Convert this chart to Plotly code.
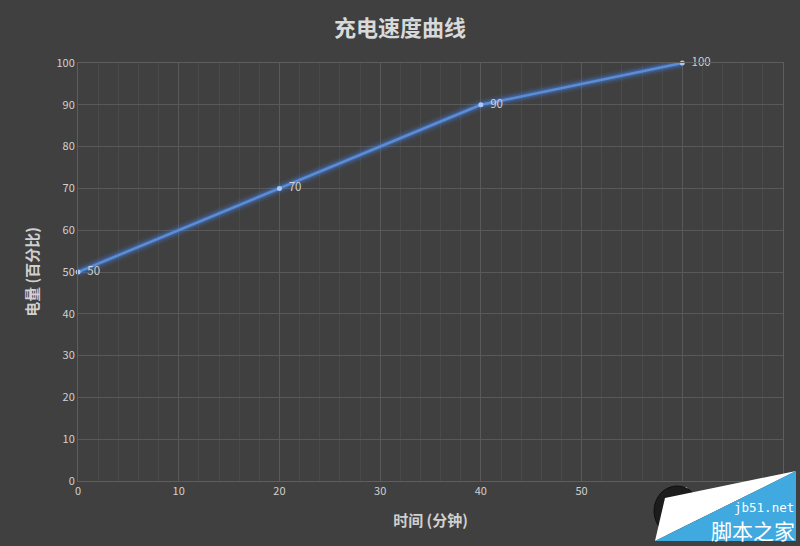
import plotly.graph_objects as go

minutes = [0, 20, 40, 60]
battery = [50, 70, 90, 100]
x_ticks = [0, 10, 20, 30, 40, 50, 60]
y_ticks = [0, 10, 20, 30, 40, 50, 60, 70, 80, 90, 100]

bg = '#404040'
grid = '#595959'
text_col = '#d0d0d0'
line_col = '#5b8dd6'

# plot area in pixels, used to place the watermark
L, R, T, B = 78, 783, 63, 481


def px(x, y):
    return (x - L) / (R - L), (B - y) / (B - T)


fig = go.Figure()

# soft glow under the line
for w, a in [(12, 0.10), (8, 0.18), (5, 0.3)]:
    fig.add_trace(go.Scatter(
        x=minutes, y=battery, mode='lines',
        line=dict(color=f'rgba(70,130,230,{a})', width=w),
        hoverinfo='skip', showlegend=False, cliponaxis=False,
    ))

fig.add_trace(go.Scatter(
    x=minutes, y=battery, mode='lines+markers+text',
    line=dict(color=line_col, width=2.5),
    marker=dict(color='#a9c8f5', size=5),
    text=['\u00a0\u00a0' + str(v) for v in battery],
    textposition='middle right',
    textfont=dict(color=text_col, size=11.5, family='Noto Sans CJK SC'),
    showlegend=False, cliponaxis=False,
))

fig.update_xaxes(
    range=[0, 70], tickvals=x_ticks, ticktext=[str(v) for v in x_ticks],
    showgrid=True, gridcolor=grid, gridwidth=1,
    minor=dict(dtick=2, showgrid=True, gridcolor='#4a4a4a', gridwidth=1),
    zeroline=False, showline=True, linecolor='#5e5e5e', mirror=True,
    tickfont=dict(color=text_col, size=11),
    title=dict(text='<b>时间 (分钟)</b>', font=dict(color=text_col, size=15), standoff=18),
)
fig.update_yaxes(
    range=[0, 100], tickvals=y_ticks,
    showgrid=True, gridcolor=grid, gridwidth=1,
    zeroline=False, showline=True, linecolor='#5e5e5e', mirror=True,
    tickfont=dict(color=text_col, size=11),
    title=dict(text='<b>电量 (百分比)</b>', font=dict(color=text_col, size=15), standoff=14),
)

# watermark (logo circle, white and blue wedges, site text)
c0, c1 = px(654, 486), px(700, 536)
fig.add_shape(type='circle', x0=c0[0], y0=c0[1], x1=c1[0], y1=c1[1],
              xref='paper', yref='paper', fillcolor='#1c1c1c',
              line=dict(color='#0e0e0e', width=1), layer='above')
p = [px(665, 498), px(796, 471), px(655, 541)]
q = [px(796, 471), px(796, 541), px(655, 541)]
path_w = 'M {} {} L {} {} L {} {} Z'.format(*[c for pt in p for c in pt])
path_b = 'M {} {} L {} {} L {} {} Z'.format(*[c for pt in q for c in pt])
fig.add_shape(type='path', path=path_w, xref='paper', yref='paper',
              fillcolor='white', line=dict(width=0), layer='above')
fig.add_shape(type='path', path=path_b, xref='paper', yref='paper',
              fillcolor='#3fa9e0', line=dict(width=0), layer='above')
wx, wy = px(795, 507)
fig.add_annotation(x=wx, y=wy, xref='paper', yref='paper', text='jb51.net',
                   showarrow=False, xanchor='right', yanchor='middle', borderpad=0,
                   font=dict(color='white', size=12.5, family='DejaVu Sans Mono'))
wx, wy = px(796, 530)
fig.add_annotation(x=wx, y=wy, xref='paper', yref='paper', text='脚本之家',
                   showarrow=False, xanchor='right', yanchor='middle', borderpad=0,
                   font=dict(color='white', size=21, family='Noto Sans CJK SC'))

fig.update_layout(
    width=800, height=546,
    paper_bgcolor=bg, plot_bgcolor=bg,
    margin=dict(l=L, r=800 - R, t=T, b=546 - B),
    font=dict(family='Noto Sans CJK SC', color=text_col),
    title=dict(text='<b>充电速度曲线</b>', x=0.5, xanchor='center',
               y=1 - 28 / 546, yanchor='middle',
               font=dict(size=22, color='#d9d9d9')),
)

fig.write_html('out.html', config={'displayModeBar': False},
               post_script="document.body.style.margin='0';document.body.style.background='#404040';")
